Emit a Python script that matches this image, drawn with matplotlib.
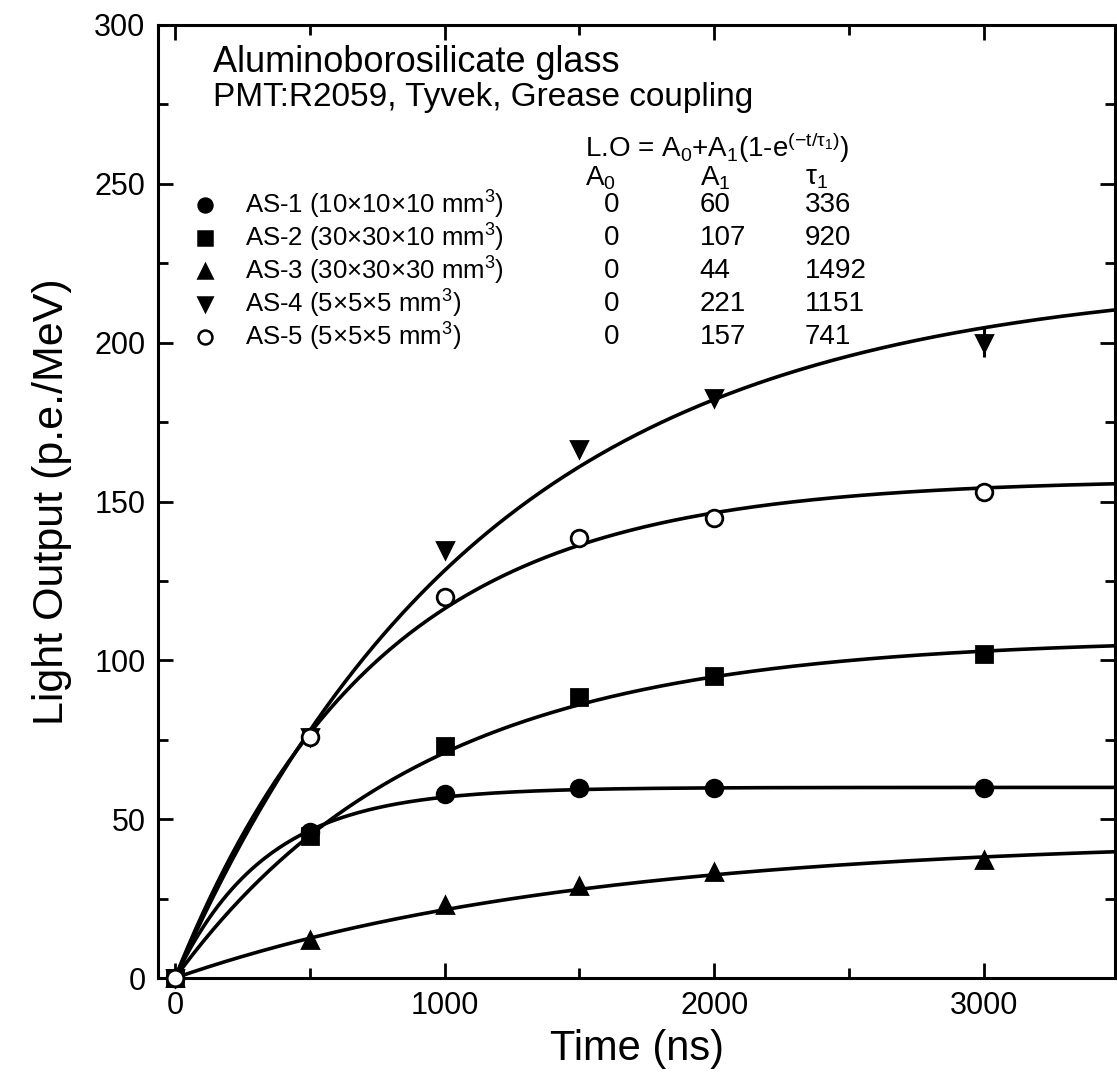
import numpy as np
import matplotlib
matplotlib.use("Agg")
import matplotlib.pyplot as plt
from matplotlib.ticker import MultipleLocator

plt.rcParams['font.family'] = ['Liberation Sans', 'DejaVu Sans']
plt.rcParams['mathtext.fontset'] = 'custom'
plt.rcParams['mathtext.rm'] = 'Liberation Sans'
plt.rcParams['mathtext.it'] = 'Liberation Sans:italic'
plt.rcParams['mathtext.default'] = 'rm'

# measured points
t = [0, 500, 1000, 1500, 2000, 3000]
as1 = [0, 46, 58, 59.8, 59.8, 59.8]
as2 = [0, 44.7, 73, 88.4, 95, 102]
as3 = [0, 12, 23, 29, 33.4, 37]
as4 = [0, 76, 134.7, 166.5, 182.5, 200]
as4_err = [0, 0, 0, 0, 0, 4.5]
as5 = [0, 76, 120, 138.5, 144.7, 153]

# fit parameters  L.O = A0 + A1 (1 - exp(-t/tau1))
names = ['AS-1', 'AS-2', 'AS-3', 'AS-4', 'AS-5']
sizes = [r'10$\times$10$\times$10 mm$^3$', r'30$\times$30$\times$10 mm$^3$',
         r'30$\times$30$\times$30 mm$^3$', r'5$\times$5$\times$5 mm$^3$',
         r'5$\times$5$\times$5 mm$^3$']
A0 = [0, 0, 0, 0, 0]
A1 = [60, 107, 44, 221, 157]
tau1 = [336, 920, 1492, 1151, 741]

series = [as1, as2, as3, as4, as5]
markers = ['o', 's', '^', 'v', 'o']
faces = ['black', 'black', 'black', 'black', 'white']
msizes = [12, 12, 11, 11, 12]

fig = plt.figure(figsize=(11.17, 10.8), dpi=100)
ax = fig.add_axes([158 / 1117, 1 - 978 / 1080, 957 / 1117, 953 / 1080])

tt = np.linspace(0, 3500, 400)
for a0, a1, tau in zip(A0, A1, tau1):
    ax.plot(tt, a0 + a1 * (1 - np.exp(-tt / tau)), color='black', lw=2.6, zorder=2)

for vals, m, fc, ms in zip(series, markers, faces, msizes):
    ax.plot(t, vals, ls='none', marker=m, mfc=fc, mec='black', mew=2,
            ms=ms, zorder=3, clip_on=False)
ax.errorbar(t, as4, yerr=as4_err, fmt='none', ecolor='black', elinewidth=2.2,
            capsize=0, zorder=3)

ax.set_xlim(-63, 3486)
ax.set_ylim(0, 300)
ax.xaxis.set_major_locator(MultipleLocator(1000))
ax.xaxis.set_minor_locator(MultipleLocator(500))
ax.yaxis.set_major_locator(MultipleLocator(50))
ax.yaxis.set_minor_locator(MultipleLocator(25))
ax.tick_params(which='both', direction='in', top=True, right=True, width=2,
               labelsize=22, colors='black')
ax.tick_params(which='major', length=11, pad=9)
ax.tick_params(which='minor', length=7)
for s in ax.spines.values():
    s.set_linewidth(2.2)

ax.set_xlabel('Time (ns)', fontsize=30, labelpad=6)
ax.set_ylabel('Light Output (p.e./MeV)', fontsize=31, labelpad=16)

# annotation block
tr = ax.transAxes
ax.text(0.057, 0.961, 'Aluminoborosilicate glass', transform=tr, fontsize=26, va='center')
ax.text(0.057, 0.924, 'PMT:R2059, Tyvek, Grease coupling', transform=tr, fontsize=24, va='center')
ax.text(0.446, 0.871, r'L.O = A$_0$+A$_1$(1-e$^{(-t/\tau_1)}$)', transform=tr,
        fontsize=20, va='center')
ax.text(0.446, 0.839, r'A$_0$', transform=tr, fontsize=20, va='center')
ax.text(0.566, 0.839, r'A$_1$', transform=tr, fontsize=20, va='center')
ax.text(0.676, 0.839, r'$\tau_1$', transform=tr, fontsize=20, va='center')

row_y = [0.811, 0.777, 0.742, 0.707, 0.673]
for i in range(5):
    y = row_y[i]
    ax.plot([0.049], [y], transform=tr, ls='none', marker=markers[i], mfc=faces[i],
            mec='black', mew=1.8, ms=10, clip_on=False)
    ax.text(0.091, y, names[i] + ' (' + sizes[i] + ')', transform=tr, fontsize=18.5, va='center')
    ax.text(0.474, y, str(A0[i]), transform=tr, fontsize=20, va='center', ha='center')
    ax.text(0.566, y, str(A1[i]), transform=tr, fontsize=20, va='center')
    ax.text(0.676, y, str(tau1[i]), transform=tr, fontsize=20, va='center')

fig.savefig('out.png', dpi=100)
